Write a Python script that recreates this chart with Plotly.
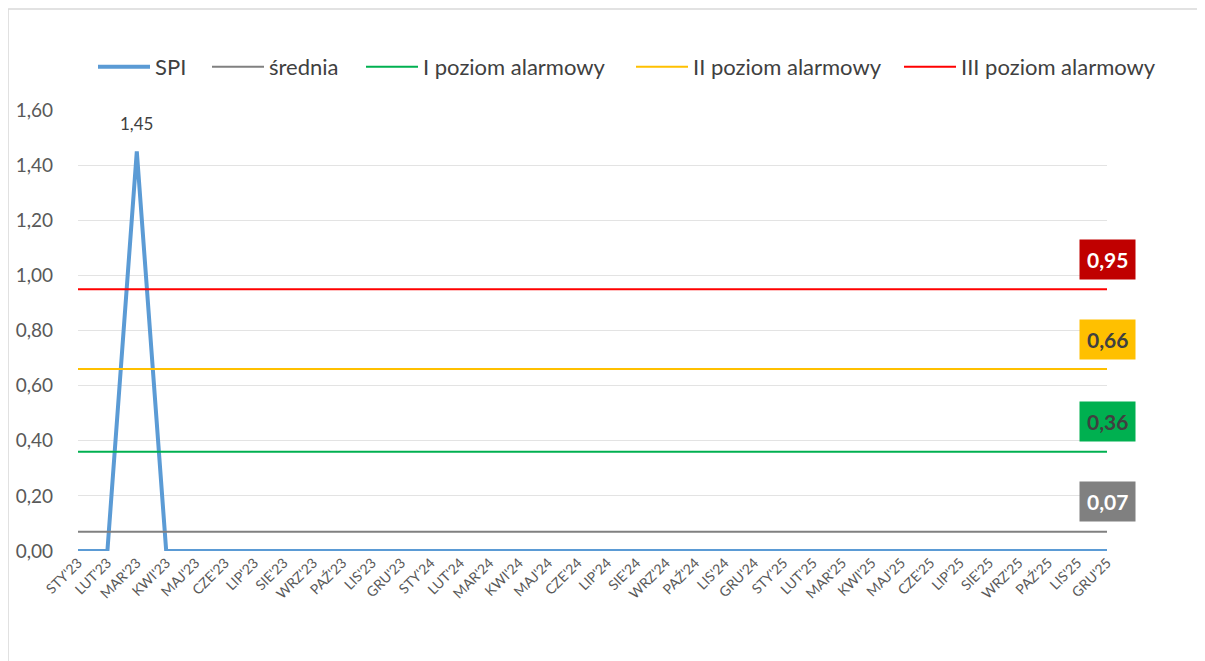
import plotly.graph_objects as go

months = ["STY", "LUT", "MAR", "KWI", "MAJ", "CZE", "LIP", "SIE", "WRZ", "PAŹ", "LIS", "GRU"]
categories = [m + "'" + y for y in ["23", "24", "25"] for m in months]

spi = [0, 0, 1.45, 0] + [0] * 32
srednia = 0.07
poziom_1 = 0.36
poziom_2 = 0.66
poziom_3 = 0.95

FONT = "Lato, 'Open Sans', sans-serif"
TXT = "#404040"
L, R, T, B = 70, 106, 102, 118
PLOT_W = 1205 - L - R

fig = go.Figure()

fig.add_trace(go.Scatter(x=categories, y=spi, name="SPI", mode="lines", legend="legend",
                         line=dict(color="#5B9BD5", width=4)))

# etykieta maksimum SPI
i_max = spi.index(max(spi))
fig.add_annotation(x=categories[i_max], y=spi[i_max], text=f"{spi[i_max]:.2f}".replace(".", ","),
                   showarrow=False, yshift=28, font=dict(size=17, color=TXT, family=FONT))

levels = [
    ("średnia", srednia, "#808080", "#808080", "white"),
    ("I poziom alarmowy", poziom_1, "#00B050", "#00B050", TXT),
    ("II poziom alarmowy", poziom_2, "#FFC000", "#FFC000", TXT),
    ("III poziom alarmowy", poziom_3, "#FF0000", "#C00000", "white"),
]

for k, (name, val, col, box, fcol) in enumerate(levels):
    fig.add_trace(go.Scatter(x=categories, y=[val] * len(categories), name=name,
                             mode="lines", legend=f"legend{k + 2}", line=dict(color=col, width=2)))
    fig.add_annotation(x=categories[-1], y=val, text="<b>" + f"{val:.2f}".replace(".", ",") + "</b>",
                       showarrow=False, yshift=30, bgcolor=box, borderpad=7,
                       font=dict(size=21, color=fcol, family=FONT))

# ramka wykresu
fig.add_shape(type="line", xref="paper", yref="paper", x0=-0.068, x1=1.095, y0=1.229, y1=1.229,
              line=dict(color="#d9d9d9", width=1.5))
fig.add_shape(type="line", xref="paper", yref="paper", x0=-0.068, x1=-0.068, y0=1.229, y1=-0.26,
              line=dict(color="#d9d9d9", width=1.5))

# osobna legenda dla każdej serii, rozstawione jak w oryginale
legend_px = [90, 204, 358, 628, 896]
legends = {}
for k, px in enumerate(legend_px):
    key = "legend" if k == 0 else f"legend{k + 1}"
    legends[key] = dict(orientation="h", x=(px - 5 - L) / PLOT_W, xanchor="left",
                        y=1.0975, yanchor="middle", itemwidth=52, bgcolor="rgba(0,0,0,0)",
                        font=dict(size=22, color=TXT, family=FONT))

fig.update_layout(
    width=1205, height=661,
    margin=dict(l=L, r=R, t=T, b=B),
    paper_bgcolor="white", plot_bgcolor="white",
    separators=", ",
    font=dict(family=FONT, color=TXT),
    showlegend=True,
    xaxis=dict(showgrid=False, tickangle=-45, tickfont=dict(size=14, color="#595959"),
               range=[0, len(categories) - 1], showline=False, ticks="", automargin=False),
    yaxis=dict(range=[0, 1.6], dtick=0.2, tickformat=".2f", gridcolor="#e3e3e3", gridwidth=1,
               zeroline=False, tickfont=dict(size=19, color="#595959"), ticklabelstandoff=24,
               automargin=False),
    **legends,
)

fig.write_html("out.html")
